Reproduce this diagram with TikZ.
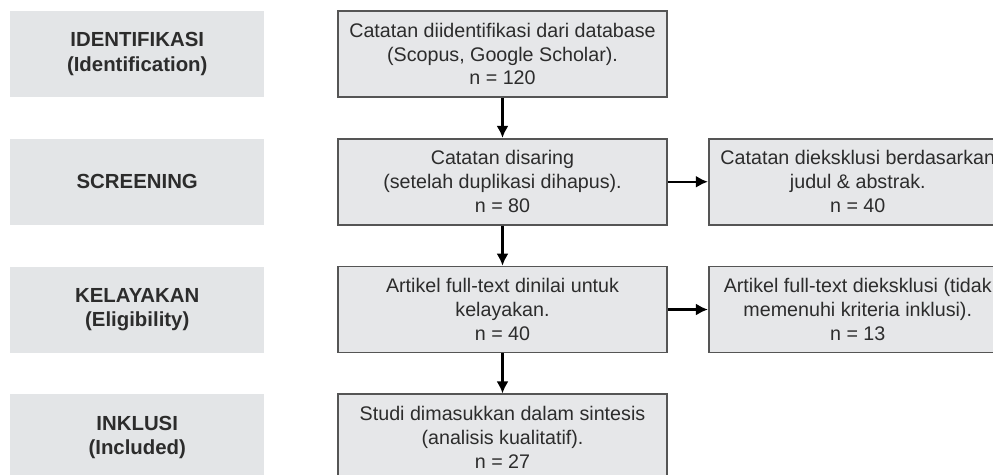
\documentclass[tikz,border=0pt]{standalone}
\usepackage{fontspec}
\setmainfont{Liberation Sans}
\usetikzlibrary{arrows.meta, positioning}
\definecolor{boxgray}{HTML}{E6E7E9}
\definecolor{stagegray}{HTML}{E3E5E7}
\definecolor{edgegray}{HTML}{555555}
\definecolor{txtgray}{HTML}{2C2C2C}

\begin{document}
\begin{tikzpicture}[line width=1pt, node distance=0.8cm, >={Latex[length=2.4mm, width=2.4mm]},
  font=\fontsize{11.2}{13.6}\selectfont,
  stagebox/.style={rectangle, fill=stagegray, minimum width=5.08cm, minimum height=1.72cm, align=center, text=txtgray, font=\fontsize{11.6}{13.8}\selectfont\bfseries},
  stepbox/.style={draw=edgegray, fill=boxgray, rectangle, minimum width=6.58cm, minimum height=1.72cm, align=center, text=txtgray},
  exclbox/.style={stepbox, minimum width=5.96cm}]
  \useasboundingbox (0,0) rectangle (19.86,-9.5);
  % Main flow: records through to included studies
  \node[stepbox] (rec) at (10.05,-1.08) {
    Catatan diidentifikasi dari database\\
    (Scopus, Google Scholar).\\
    n = 120
  };
  \node[stepbox, below=of rec] (scr) {
    Catatan disaring\\
    (setelah duplikasi dihapus).\\
    n = 80
  };
  \node[stepbox, below=of scr] (elig) {
    Artikel full-text dinilai untuk\\
    kelayakan.\\
    n = 40
  };
  \node[stepbox, below=of elig] (incl) {
    Studi dimasukkan dalam sintesis\\
    (analisis kualitatif).\\
    n = 27
  };
  % Exclusions on the right
  \node[exclbox, right=of scr] (exscr) {
    Catatan dieksklusi berdasarkan\\
    judul \& abstrak.\\
    n = 40
  };
  \node[exclbox, right=of elig] (exelig) {
    Artikel full-text dieksklusi (tidak\\
    memenuhi kriteria inklusi).\\
    n = 13
  };
  % Stage labels on the left
  \node[stagebox, left=1.44cm of rec] (ident) {IDENTIFIKASI\\(Identification)};
  \node[stagebox, left=1.44cm of scr] (screen) {SCREENING};
  \node[stagebox, left=1.44cm of elig] (eligst) {KELAYAKAN\\(Eligibility)};
  \node[stagebox, left=1.44cm of incl] (inclst) {INKLUSI\\(Included)};
  % Arrows
  \draw[->, line width=1.2pt] (rec) -- (scr);
  \draw[->, line width=1.2pt] (scr) -- (elig);
  \draw[->, line width=1.2pt] (elig) -- (incl);
  \draw[->, line width=1.2pt] (scr) -- (exscr);
  \draw[->, line width=1.2pt] (elig) -- (exelig);
\end{tikzpicture}
\end{document}
